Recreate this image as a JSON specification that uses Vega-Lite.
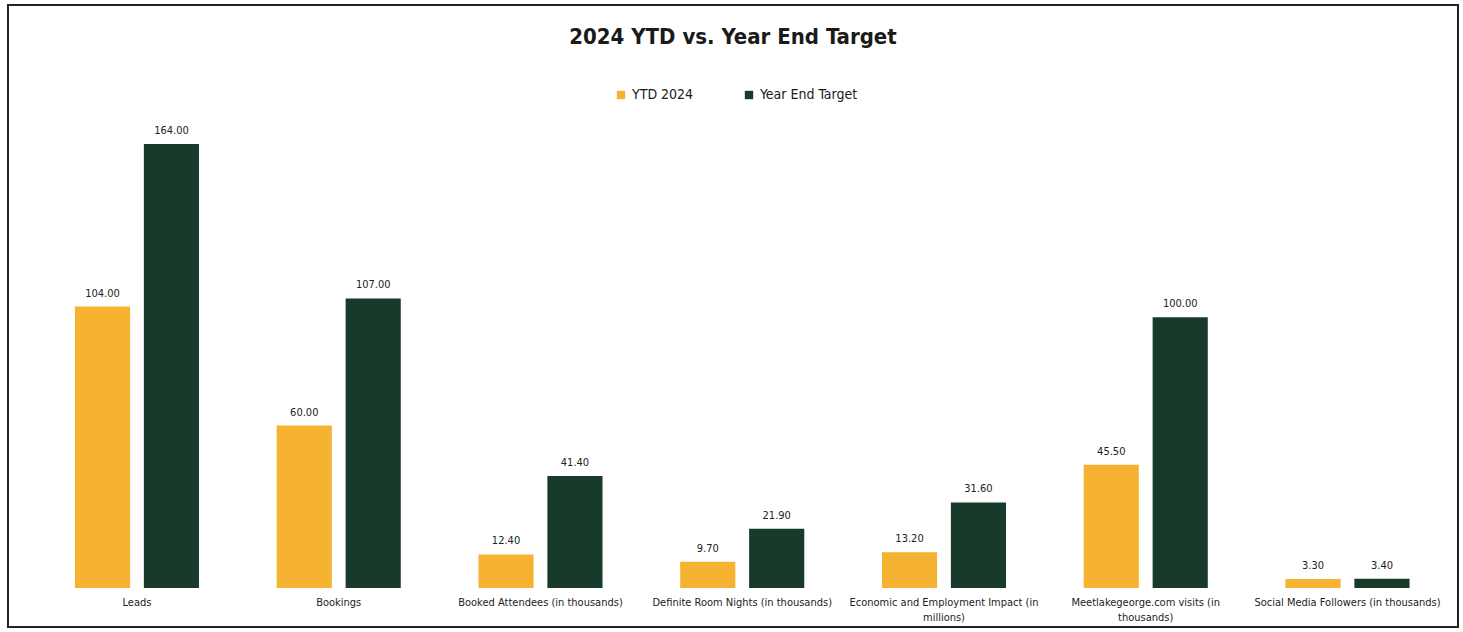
{
  "$schema": "https://vega.github.io/schema/vega-lite/v6.json",
  "autosize": {"type": "none"},
  "padding": {"left": 8, "top": 5, "right": 5, "bottom": 5},
  "width": 1450,
  "height": 622,
  "background": "white",
  "title": {
    "text": "2024 YTD vs. Year End Target",
    "frame": "group",
    "anchor": "middle",
    "offset": -44,
    "fontSize": 22,
    "fontWeight": "bold",
    "font": "'Liberation Sans Narrow', 'DejaVu Sans Condensed', sans-serif",
    "color": "#1a1a1a"
  },
  "config": {
    "view": {"stroke": "#222222", "strokeWidth": 2},
    "font": "'Liberation Sans Narrow', 'DejaVu Sans Condensed', sans-serif"
  },
  "data": {
    "values": [
      {"metric": "Leads", "series": "YTD 2024", "value": 104},
      {"metric": "Leads", "series": "Year End Target", "value": 164},
      {"metric": "Bookings", "series": "YTD 2024", "value": 60},
      {"metric": "Bookings", "series": "Year End Target", "value": 107},
      {"metric": "Booked Attendees (in thousands)", "series": "YTD 2024", "value": 12.4},
      {"metric": "Booked Attendees (in thousands)", "series": "Year End Target", "value": 41.4},
      {"metric": "Definite Room Nights (in thousands)", "series": "YTD 2024", "value": 9.7},
      {"metric": "Definite Room Nights (in thousands)", "series": "Year End Target", "value": 21.9},
      {"metric": "Economic and Employment Impact (in millions)", "series": "YTD 2024", "value": 13.2},
      {"metric": "Economic and Employment Impact (in millions)", "series": "Year End Target", "value": 31.6},
      {"metric": "Meetlakegeorge.com visits (in thousands)", "series": "YTD 2024", "value": 45.5},
      {"metric": "Meetlakegeorge.com visits (in thousands)", "series": "Year End Target", "value": 100},
      {"metric": "Social Media Followers (in thousands)", "series": "YTD 2024", "value": 3.3},
      {"metric": "Social Media Followers (in thousands)", "series": "Year End Target", "value": 3.4}
    ]
  },
  "encoding": {
    "x": {
      "field": "metric",
      "type": "nominal",
      "sort": null,
      "scale": {"paddingInner": 0.385, "paddingOuter": 0.286, "align": 0.58},
      "axis": {
        "orient": "bottom",
        "offset": -39,
        "title": null,
        "domain": false,
        "ticks": false,
        "labelAngle": 0,
        "labelPadding": 8,
        "labelFontSize": 11,
        "labelColor": "#222222",
        "labelLimit": 300,
        "labelLineHeight": 15,
        "labelExpr": "datum.value == 'Economic and Employment Impact (in millions)' ? ['Economic and Employment Impact (in', 'millions)'] : datum.value == 'Meetlakegeorge.com visits (in thousands)' ? ['Meetlakegeorge.com visits (in', 'thousands)'] : datum.value"
      }
    },
    "xOffset": {
      "field": "series",
      "type": "nominal",
      "scale": {"paddingInner": 0.2, "paddingOuter": 0}
    },
    "y": {
      "field": "value",
      "type": "quantitative",
      "scale": {"domain": [-14.4, 215.4], "nice": false, "zero": false},
      "axis": null
    }
  },
  "layer": [
    {
      "mark": {"type": "bar"},
      "encoding": {
        "color": {
          "field": "series",
          "type": "nominal",
          "scale": {"domain": ["YTD 2024", "Year End Target"], "range": ["#F5B331", "#183A2A"]},
          "legend": {
            "title": null,
            "orient": "none",
            "direction": "horizontal",
            "legendX": 606,
            "legendY": 83,
            "symbolType": "square",
            "symbolSize": 70,
            "symbolOpacity": 1,
            "labelFontSize": 14,
            "labelColor": "#1a1a1a",
            "labelOffset": 4,
            "columnPadding": 48
          }
        }
      }
    },
    {
      "mark": {"type": "text", "baseline": "bottom", "dy": -8, "fontSize": 11, "color": "#222222"},
      "encoding": {
        "text": {"field": "value", "type": "quantitative", "format": ".2f"}
      }
    }
  ]
}
